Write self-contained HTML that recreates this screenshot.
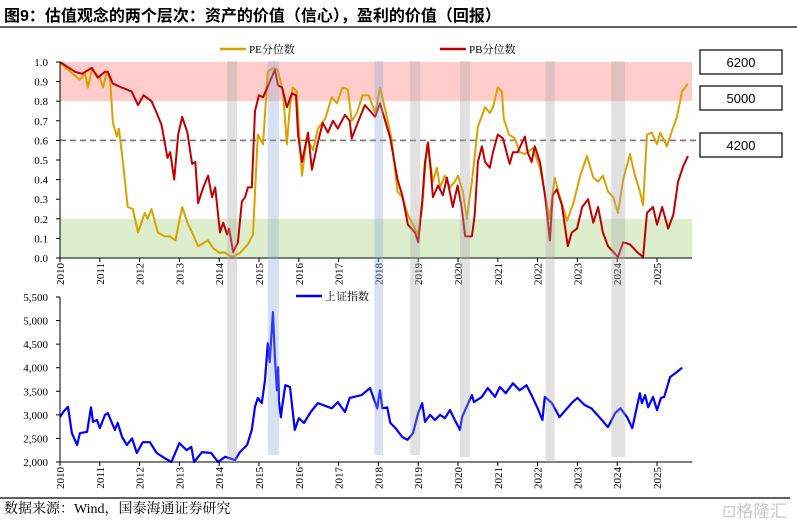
<!DOCTYPE html>
<html><head><meta charset="utf-8"><style>
body{margin:0;background:#fff;}
svg text{font-family:"Liberation Serif","Noto Serif CJK SC",serif;}
</style></head><body>
<svg id="chart" width="797" height="526" viewBox="0 0 797 526" xmlns="http://www.w3.org/2000/svg">
<text x="4" y="21" font-size="16" font-weight="bold" style="font-family:'Liberation Sans','Noto Sans CJK SC',sans-serif">图9：估值观念的两个层次：资产的价值（信心），盈利的价值（回报）</text>
<line x1="0" y1="27" x2="797" y2="27" stroke="#000" stroke-width="1.2"/>
<g id="gtop"></g>
<g id="gbottom"></g>
<g id="gbands"></g>
<g id="gboxes"></g>
<line x1="0" y1="498" x2="790" y2="498" stroke="#000" stroke-width="1.2"/>
<text x="4" y="513" font-size="14">数据来源：Wind，国泰海通证券研究</text>
<text x="722" y="517" font-size="17" fill="#c8c8c8" style="font-family:'Liberation Sans','Noto Sans CJK SC',sans-serif">⊡格隆汇</text>
</svg>
<script>
const years=[2010,2011,2012,2013,2014,2015,2016,2017,2018,2019,2020,2021,2022,2023,2024,2025];
const topTicks=[0,0.1,0.2,0.3,0.4,0.5,0.6,0.7,0.8,0.9,1.0];
const botTicks=[2000,2500,3000,3500,4000,4500,5000,5500];
const peT=[2010.0,2010.38,2010.5,2010.63,2010.7,2010.8,2011.0,2011.08,2011.18,2011.26,2011.33,2011.43,2011.48,2011.58,2011.7,2011.83,2011.96,2012.13,2012.2,2012.3,2012.46,2012.63,2012.76,2012.9,2013.07,2013.2,2013.32,2013.47,2013.72,2013.85,2014.02,2014.12,2014.32,2014.52,2014.72,2014.85,2014.97,2015.1,2015.22,2015.35,2015.47,2015.6,2015.7,2015.78,2015.85,2015.95,2016.03,2016.08,2016.2,2016.36,2016.48,2016.66,2016.83,2016.96,2017.1,2017.23,2017.33,2017.46,2017.6,2017.76,2017.92,2018.04,2018.2,2018.33,2018.48,2018.6,2018.74,2018.92,2019.0,2019.1,2019.22,2019.3,2019.37,2019.47,2019.55,2019.67,2019.8,2019.92,2020.0,2020.12,2020.22,2020.35,2020.5,2020.68,2020.8,2020.88,2021.0,2021.1,2021.15,2021.28,2021.43,2021.55,2021.68,2021.88,2022.06,2022.19,2022.3,2022.43,2022.56,2022.74,2022.9,2023.07,2023.24,2023.4,2023.52,2023.64,2023.77,2023.9,2024.02,2024.15,2024.32,2024.45,2024.57,2024.65,2024.75,2024.87,2025.0,2025.08,2025.25,2025.38,2025.5,2025.63,2025.78];
const peV=[0.995,0.93,0.91,0.94,0.87,0.96,0.92,0.87,0.95,0.91,0.69,0.62,0.66,0.49,0.26,0.25,0.13,0.23,0.2,0.25,0.13,0.11,0.11,0.09,0.26,0.18,0.13,0.06,0.09,0.05,0.025,0.03,0.005,0.025,0.07,0.12,0.63,0.58,0.95,0.97,0.96,0.85,0.58,0.78,0.87,0.85,0.56,0.42,0.61,0.55,0.66,0.71,0.82,0.79,0.87,0.86,0.70,0.74,0.83,0.83,0.74,0.87,0.73,0.61,0.34,0.31,0.22,0.15,0.12,0.26,0.58,0.49,0.39,0.46,0.36,0.42,0.36,0.39,0.42,0.34,0.20,0.39,0.67,0.77,0.74,0.77,0.87,0.85,0.71,0.63,0.61,0.54,0.53,0.56,0.46,0.32,0.20,0.41,0.31,0.19,0.28,0.42,0.52,0.41,0.39,0.42,0.34,0.31,0.23,0.40,0.53,0.42,0.34,0.27,0.63,0.64,0.58,0.64,0.57,0.65,0.72,0.85,0.89];
const pbT=[2010.0,2010.38,2010.55,2010.8,2010.95,2011.13,2011.2,2011.33,2011.55,2011.8,2011.96,2012.1,2012.3,2012.43,2012.55,2012.7,2012.77,2012.87,2012.97,2013.07,2013.2,2013.32,2013.4,2013.47,2013.6,2013.72,2013.82,2013.9,2014.02,2014.1,2014.2,2014.25,2014.35,2014.47,2014.57,2014.65,2014.72,2014.82,2014.9,2015.0,2015.1,2015.23,2015.4,2015.48,2015.58,2015.7,2015.83,2015.93,2015.98,2016.08,2016.23,2016.33,2016.48,2016.6,2016.73,2016.86,2016.98,2017.16,2017.28,2017.33,2017.48,2017.66,2017.92,2018.04,2018.17,2018.3,2018.48,2018.6,2018.74,2018.92,2019.0,2019.1,2019.17,2019.25,2019.32,2019.37,2019.5,2019.62,2019.72,2019.87,2019.99,2020.09,2020.18,2020.35,2020.42,2020.5,2020.6,2020.68,2020.8,2020.88,2021.0,2021.13,2021.23,2021.3,2021.38,2021.5,2021.68,2021.75,2021.85,2021.93,2022.06,2022.19,2022.31,2022.38,2022.48,2022.61,2022.76,2022.86,2022.99,2023.12,2023.27,2023.4,2023.52,2023.64,2023.77,2024.02,2024.15,2024.32,2024.5,2024.65,2024.75,2024.9,2025.0,2025.13,2025.28,2025.41,2025.53,2025.66,2025.78];
const pbV=[1.0,0.95,0.94,0.97,0.92,0.95,0.95,0.89,0.87,0.85,0.78,0.83,0.80,0.74,0.68,0.51,0.54,0.40,0.63,0.72,0.64,0.48,0.49,0.28,0.36,0.42,0.31,0.36,0.13,0.18,0.12,0.15,0.03,0.08,0.29,0.31,0.36,0.36,0.75,0.83,0.82,0.88,0.96,0.88,0.87,0.77,0.84,0.83,0.63,0.49,0.64,0.45,0.59,0.69,0.64,0.70,0.66,0.73,0.70,0.61,0.69,0.78,0.72,0.79,0.70,0.61,0.40,0.32,0.17,0.13,0.08,0.29,0.49,0.59,0.44,0.31,0.37,0.32,0.41,0.26,0.37,0.26,0.11,0.11,0.22,0.49,0.57,0.49,0.46,0.54,0.63,0.61,0.53,0.48,0.54,0.54,0.62,0.54,0.49,0.57,0.49,0.31,0.09,0.32,0.35,0.27,0.06,0.13,0.15,0.26,0.30,0.18,0.26,0.13,0.06,0.005,0.08,0.07,0.03,0.005,0.23,0.26,0.17,0.26,0.15,0.22,0.39,0.47,0.52];
const shT=[2010.0,2010.08,2010.2,2010.3,2010.43,2010.5,2010.68,2010.78,2010.83,2010.93,2011.0,2011.13,2011.2,2011.38,2011.45,2011.56,2011.68,2011.81,2011.93,2012.08,2012.26,2012.43,2012.63,2012.8,2013.0,2013.18,2013.3,2013.37,2013.57,2013.8,2013.97,2014.15,2014.4,2014.52,2014.7,2014.82,2014.9,2014.97,2015.07,2015.15,2015.22,2015.27,2015.35,2015.4,2015.45,2015.48,2015.5,2015.55,2015.58,2015.66,2015.78,2015.9,2016.0,2016.13,2016.3,2016.48,2016.83,2016.98,2017.16,2017.28,2017.58,2017.79,2017.97,2018.04,2018.1,2018.22,2018.3,2018.43,2018.6,2018.73,2018.87,2019.0,2019.1,2019.17,2019.3,2019.42,2019.55,2019.67,2019.8,2019.92,2020.05,2020.1,2020.35,2020.4,2020.6,2020.75,2020.93,2021.05,2021.2,2021.38,2021.55,2021.72,2021.87,2022.02,2022.12,2022.18,2022.36,2022.55,2022.7,2022.88,2023.0,2023.18,2023.35,2023.5,2023.77,2023.95,2024.08,2024.25,2024.38,2024.57,2024.62,2024.7,2024.78,2024.9,2025.0,2025.1,2025.18,2025.33,2025.5,2025.63,2025.75];
const shV=[2953,3060,3170,2610,2360,2610,2640,3160,2850,2890,2720,3000,3040,2680,2830,2530,2360,2500,2190,2420,2420,2190,2080,2000,2400,2250,2320,2000,2210,2190,2000,2110,2040,2210,2360,2680,3170,3360,3250,3740,4520,4120,5180,4220,3520,4010,3300,2950,3160,3630,3590,2680,2930,2830,3060,3250,3140,3270,3060,3360,3420,3570,3140,3520,3140,3160,2830,2720,2530,2470,2610,3040,3250,2850,3000,2890,3000,2930,3100,2890,2680,2950,3420,3270,3380,3570,3380,3590,3460,3670,3520,3630,3380,3100,2890,3380,3250,2950,3100,3270,3360,3210,3140,3000,2740,3040,3140,2950,2720,3460,3250,3420,3160,3380,3100,3360,3380,3800,3910,4000];
const bandGray=[[2014.2,2014.45,462],[2018.8,2019.05,455],[2020.05,2020.3,457],[2022.2,2022.43,462],[2023.85,2024.2,457]];
const bandBlue=[[2015.22,2015.5,455],[2017.9,2018.12,455]];

const NS='http://www.w3.org/2000/svg';
function mk(tag,attrs,parent){const e=document.createElementNS(NS,tag);for(const k in attrs)e.setAttribute(k,attrs[k]);parent.appendChild(e);return e;}
const xs=t=>60+(t-2010)*39.8;
const yT=v=>258-v*196;
const yB=v=>462-(v-2000)*165/3500;
const gTop=document.getElementById('gtop'),gBot=document.getElementById('gbottom'),gBands=document.getElementById('gbands'),gBoxes=document.getElementById('gboxes');

let r=mk('rect',{x:60,y:yT(1),width:632,height:yT(0.8)-yT(1),fill:'#FFCCCC'},gTop);


r=mk('rect',{x:60,y:yT(0.2),width:632,height:yT(0)-yT(0.2),fill:'#DDEECC'},gTop);


let dl=mk('line',{x1:60,y1:yT(0.6),x2:700,y2:yT(0.6),stroke:'#808080','stroke-width':1.8,'stroke-dasharray':'6,4'},gTop);



function path(T,V,fy,color,g,name,w){
  const n=Math.min(T.length,V.length);
  let d='';
  for(let i=0;i<n;i++){d+=(i?'L':'M')+xs(T[i]).toFixed(1)+','+fy(V[i]).toFixed(1);}
  const p=mk('path',{d:d,fill:'none',stroke:color,'stroke-width':w,'stroke-linejoin':'round'},g);
  
  
}
path(peT,peV,yT,'#D9A200',gTop,'pe-percentile-line',2);
path(pbT,pbV,yT,'#C00000',gTop,'pb-percentile-line',2);
path(shT,shV,yB,'#0000FF',gBot,'sse-index-line',2.2);

function axes(g,y0,y1,ticks,fy,fmt,nm){
  let a=mk('line',{x1:60,y1:y1,x2:60,y2:y0,stroke:'#000'},g);
  
  a=mk('line',{x1:60,y1:y0,x2:692,y2:y0,stroke:'#000'},g);
  
  ticks.forEach(v=>{
    mk('line',{x1:56,y1:fy(v),x2:60,y2:fy(v),stroke:'#000'},g);
    const t=mk('text',{x:48,y:fy(v)+4,'font-size':11,'text-anchor':'end'},g);
    t.textContent=fmt(v);
    
    
  });
  years.forEach(yr=>{
    mk('line',{x1:xs(yr),y1:y0,x2:xs(yr),y2:y0+4,stroke:'#000'},g);
    const t=mk('text',{x:0,y:0,'font-size':11,'text-anchor':'end',transform:'translate('+(xs(yr)+4)+','+(y0+5)+') rotate(-90)'},g);
    t.textContent=yr;
    
    
  });
}
axes(gTop,258,62,topTicks,yT,v=>v.toFixed(1),'top');
axes(gBot,462,297,botTicks,yB,v=>v.toLocaleString('en-US'),'bottom');

bandGray.forEach(b=>{const e=mk('rect',{x:xs(b[0]),y:61,width:xs(b[1])-xs(b[0]),height:b[2]-61,fill:'rgba(170,170,170,0.35)'},gBands);

});
bandBlue.forEach(b=>{const e=mk('rect',{x:xs(b[0]),y:61,width:xs(b[1])-xs(b[0]),height:b[2]-61,fill:'rgba(140,170,215,0.35)'},gBands);

});

function legend(x0,y0,color,label,nm){
  const l=mk('line',{x1:x0,y1:y0,x2:x0+26,y2:y0,stroke:color,'stroke-width':2.5},gBoxes);
  
  const t=mk('text',{x:x0+29,y:y0+4,'font-size':11},gBoxes);t.textContent=label;
  
}
legend(220,49,'#D9A200','PE分位数','legend-pe');
legend(440,49,'#C00000','PB分位数','legend-pb');
legend(296,296,'#0000FF','上证指数','legend-sse');

[[50,'6200'],[86,'5000'],[133,'4200']].forEach(b=>{
  const rr=mk('rect',{x:700,y:b[0],width:82,height:24,fill:'#fff',stroke:'#000','stroke-width':1.2},gBoxes);
  
  const t=mk('text',{x:741,y:b[0]+17,'font-size':13,'text-anchor':'middle',style:'font-family:"Liberation Sans",sans-serif'},gBoxes);
  t.textContent=b[1];
});
</script>
</body></html>
